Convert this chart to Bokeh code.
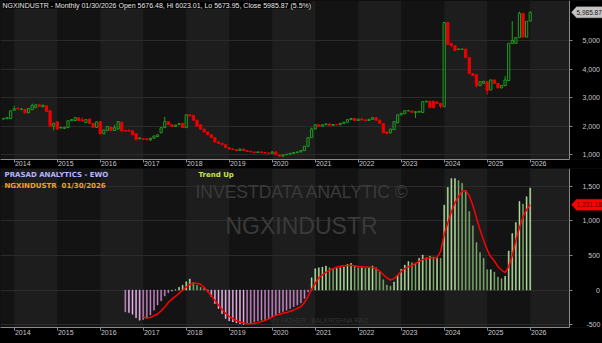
import numpy as np
import pandas as pd
from bokeh.plotting import figure
from bokeh.layouts import column
from bokeh.models import FixedTicker, Label, PolyAnnotation, Range1d, BoxAnnotation
from bokeh.embed import file_html
from bokeh.resources import INLINE

# ---------------- data ----------------
FIRST_MONTH = "2013-10-01"
opens = [2250, 2265, 2270, 2560, 2630, 2585, 2590, 2470, 2580, 2650, 2750, 2680,
         2720, 2540, 2000, 2160, 1940, 1920, 1950, 2190, 2200, 2290, 2220, 2130,
         2250, 2100, 1960, 2160, 1740, 1850, 1970, 1850, 1900, 2140, 1850, 1860,
         1840, 1740, 1560, 1560, 1560, 1520, 1580, 1640, 1770, 1950, 2160, 2050,
         1990, 2060, 2100, 1950, 2400, 2380, 2210, 2050, 1900, 1800, 1700, 1600,
         1450, 1400, 1350, 1250, 1200, 1180, 1150, 1200, 1150, 1120, 1100, 1080,
         1100, 1080, 1060, 1050, 1100, 1000, 950, 1000, 1020, 1050, 1080, 1100,
         1150, 1300, 1600, 1900, 2050, 2000, 2050, 2080, 2030, 2060, 2050, 2100,
         2140, 2230, 2270, 2200, 2250, 2220, 2200, 2240, 2300, 2210, 2090, 1800,
         1770, 1880, 2120, 2400, 2440, 2540, 2530, 2480, 2490, 2480, 2850, 2870,
         2870, 2850, 2800, 2680, 5630, 4900, 4820, 4690, 4690, 4700, 4400, 3840,
         3800, 3420, 3500, 3560, 3270, 3620, 3500, 3340, 3420, 3600, 4900, 4900,
         5100, 5950, 5120, 5676.48]
highs = [2275, 2320, 2560, 2720, 2650, 2640, 2600, 2640, 2790, 2770, 2760, 2760,
         2730, 2550, 2120, 2170, 1980, 1975, 2200, 2250, 2320, 2310, 2300, 2240,
         2260, 2110, 2170, 2170, 1880, 2000, 1980, 2050, 2180, 2150, 1880, 1870,
         1850, 1750, 1600, 1570, 1570, 1590, 1670, 1710, 1960, 2330, 2170, 2060,
         2050, 2100, 2110, 2410, 2430, 2390, 2220, 2060, 1910, 1820, 1720, 1620,
         1470, 1420, 1360, 1270, 1230, 1190, 1220, 1210, 1160, 1130, 1110, 1110,
         1110, 1090, 1070, 1120, 1110, 1010, 1010, 1030, 1060, 1090, 1110, 1160,
         1310, 1610, 1950, 2080, 2070, 2060, 2100, 2090, 2070, 2080, 2110, 2150,
         2250, 2290, 2280, 2260, 2280, 2240, 2260, 2320, 2310, 2220, 2100, 1810,
         1910, 2170, 2410, 2460, 2550, 2560, 2540, 2520, 2530, 2880, 2900, 2900,
         2890, 2860, 2810, 5640, 5640, 4910, 4830, 4720, 4710, 4710, 4410, 3850,
         3810, 3570, 3590, 3570, 3630, 3630, 3510, 3440, 3760, 4910, 5680, 5110,
         6010, 5960, 5680, 6023.01]
lows = [2240, 2255, 2260, 2540, 2590, 2560, 2450, 2460, 2570, 2640, 2690, 2670,
        2500, 1980, 1850, 1880, 1920, 1900, 1940, 2180, 2190, 2190, 2150, 2120,
        2090, 1950, 1950, 1700, 1720, 1840, 1840, 1840, 1890, 1820, 1810, 1820,
        1690, 1520, 1550, 1535, 1520, 1490, 1570, 1630, 1760, 1940, 2050, 1980,
        1980, 2050, 1940, 1940, 2350, 2200, 1990, 1880, 1790, 1690, 1590, 1440,
        1390, 1340, 1240, 1190, 1170, 1140, 1140, 1140, 1110, 1090, 1070, 1070,
        1070, 1050, 1040, 1040, 990, 920, 940, 990, 1010, 1040, 1070, 1090,
        1140, 1290, 1590, 1890, 1990, 1990, 2040, 2020, 2020, 2040, 2040, 2090,
        2130, 2220, 2180, 2190, 2200, 2180, 2190, 2230, 2200, 2080, 1760, 1730,
        1750, 1870, 2110, 2390, 2430, 2520, 2480, 2290, 2480, 2470, 2840, 2640,
        2640, 2790, 2620, 2670, 4850, 4760, 4640, 4680, 4680, 4390, 3830, 3760,
        3350, 3410, 3490, 3100, 3260, 3490, 3330, 3330, 3410, 3590, 4880, 4890,
        5090, 5110, 5110, 5673.95]
closes = [2265, 2300, 2540, 2610, 2600, 2595, 2470, 2620, 2720, 2750, 2700, 2730,
          2510, 2000, 2100, 1900, 1955, 1960, 2190, 2230, 2300, 2200, 2200, 2230,
          2100, 1960, 2150, 1740, 1870, 1990, 1850, 1950, 2160, 1830, 1820, 1830,
          1700, 1530, 1590, 1540, 1530, 1580, 1660, 1700, 1950, 2160, 2060, 1990,
          2040, 2090, 1950, 2400, 2360, 2210, 2000, 1900, 1800, 1700, 1600, 1450,
          1400, 1350, 1250, 1200, 1180, 1150, 1200, 1150, 1120, 1100, 1080, 1100,
          1080, 1060, 1050, 1100, 1000, 950, 1000, 1020, 1050, 1080, 1100, 1150,
          1300, 1600, 1900, 2050, 2000, 2050, 2080, 2030, 2060, 2050, 2100, 2140,
          2230, 2270, 2200, 2250, 2220, 2200, 2240, 2300, 2210, 2100, 1770, 1740,
          1900, 2160, 2400, 2450, 2540, 2545, 2490, 2510, 2520, 2860, 2870, 2650,
          2650, 2800, 2700, 5630, 4860, 4830, 4650, 4700, 4700, 4400, 3840, 3770,
          3420, 3560, 3570, 3250, 3620, 3500, 3340, 3430, 3620, 4900, 5000, 5100,
          5950, 5120, 5676.48, 5985.87]

EWO_FIRST_MONTH = "2016-08-01"
ewo = [-315, -325, -350, -400, -435, -425, -410, -360, -290, -215, -155, -85,
       -40, -15, 5, 40, 70, 120, 160, 110, 70, 40, 25, -25,
       -95, -195, -265, -340, -410, -445, -460, -475, -485, -495, -485, -475,
       -460, -445, -435, -425, -415, -385, -370, -330, -310, -290, -265, -240,
       -215, -185, -120, -25, 178, 309, 323, 333, 348, 323, 314, 314,
       323, 333, 372, 386, 348, 323, 323, 314, 323, 348, 323, 266,
       150, 72, 58, 116, 217, 300, 362, 411, 396, 392, 459, 507,
       469, 488, 478, 478, 459, 1227, 1483, 1609, 1609, 1580, 1541, 1435,
       1135, 928, 686, 541, 459, 295, 295, 261, 188, 164, 198, 565,
       816, 976, 1280, 1242, 1348, 1474]

SIGNAL_FIRST_MONTH = "2017-01-01"
signal = [-390, -400, -395, -370, -345, -300, -245, -180, -130, -90, -45, -5,
          45, 80, 100, 100, 85, 40, -20, -80, -150, -215, -280, -335,
          -380, -410, -440, -460, -475, -485, -485, -480, -470, -455, -440, -415,
          -390, -365, -350, -335, -325, -305, -290, -265, -240, -180, -90, 15,
          95, 178, 220, 255, 285, 310, 330, 345, 350, 355, 357, 350,
          340, 337, 335, 330, 325, 310, 275, 220, 178, 145, 165, 215,
          270, 310, 340, 350, 385, 415, 440, 455, 465, 469, 465, 560,
          800, 970, 1130, 1260, 1350, 1430, 1435, 1363, 1220, 1040, 870, 720,
          580, 480, 420, 340, 290, 251, 340, 500, 720, 900, 1060, 1160,
          1231.18]

years = list(range(2014, 2027))
price_ticks = [1000, 2000, 3000, 4000, 5000]
ewo_ticks = [-500, 0, 500, 1000, 1500]

TITLE = ("NGXINDUSTR - Monthly 01/30/2026 Open 5676.48, Hi 6023.01, "
         "Lo 5673.95, Close 5985.87 (5.5%)")

# ---------------- helpers ----------------
def month_x(first, n):
    d = pd.date_range(first, periods=n, freq="MS")
    return np.array([(t.year - 2014) * 12 + t.month - 1 for t in d], float)


FONT = "Liberation Sans"
BFONT = "DejaVu Sans"
BG = "#1d1d1d"
BAND = "#131313"
GRID = "#2b2b2b"
AX = "#8a8a8a"
LBL = "#c8c8c8"
W, FH = 602, 159           # frame spans the full width; price axis is pinned inside it
AXIS_PX = 569              # pixel column of the price axis
X0, X_AXIS = -3.84, 154.97  # month offsets at the left edge and at the price axis
PX_PER_M = AXIS_PX / (X_AXIS - X0)
x_range = Range1d(X0, X0 + W / PX_PER_M)

year_x = [(y - 2014) * 12 for y in years]
LAB_OFF = 2.375


def right_aligned(ticks):
    labs = [f"{t:,}" for t in ticks]
    nd = [sum(ch.isdigit() for ch in s) for s in labs]
    nc = [s.count(",") for s in labs]
    md, mc = max(nd), max(nc)
    out = {}
    for t, s, d, c in zip(ticks, labs, nd, nc):
        pad_c = mc - c - (1 if s.startswith("-") else 0)
        out[t] = "\u2007" * (md - d) + "\u2008" * max(pad_c, 0) + s
    return out


def style(p, yticks, standoff):
    p.background_fill_color = BG
    p.border_fill_color = "black"
    p.outline_line_color = None
    xa = p.xaxis[0]
    xa.bounds = (X0, X_AXIS)
    xa.ticker = FixedTicker(ticks=[x + LAB_OFF for x in year_x], minor_ticks=year_x)
    xa.major_label_overrides = {x + LAB_OFF: str(y) for x, y in zip(year_x, years)}
    xa.major_tick_out = 0
    xa.major_tick_in = 0
    xa.minor_tick_out = 3
    xa.minor_tick_in = 0
    xa.minor_tick_line_color = AX
    xa.major_label_standoff = standoff
    ya = p.yaxis[0]
    ya.fixed_location = X_AXIS
    ya.ticker = FixedTicker(ticks=yticks)
    ya.major_label_overrides = right_aligned(yticks)
    ya.major_tick_out = 3
    ya.major_tick_in = 0
    ya.minor_tick_line_color = None
    ya.major_label_standoff = 10
    for ax in (xa, ya):
        ax.major_label_text_font = FONT
        ax.major_label_text_font_size = "7px"
        ax.major_label_text_color = LBL
        ax.axis_line_color = AX
        ax.major_tick_line_color = AX
    p.xgrid.ticker = FixedTicker(ticks=[year_x[0] - 12] + year_x + [year_x[-1] + 12])
    p.xgrid.grid_line_color = None
    p.xgrid.band_fill_color = BAND
    p.xgrid.band_fill_alpha = 1.0
    p.ygrid.ticker = FixedTicker(ticks=yticks)
    p.ygrid.grid_line_color = GRID
    # black strip behind the price-axis labels
    p.add_layout(BoxAnnotation(left=X_AXIS, fill_color="black", fill_alpha=1.0,
                               line_color=None, level="underlay"))


def price_tag(p, yr, val, fill, text_color):
    sy = (val - yr.start) / (yr.end - yr.start) * FH
    p.add_layout(PolyAnnotation(xs=[AXIS_PX + 2, AXIS_PX + 7, W, W, AXIS_PX + 7],
                                ys=[sy, sy + 5.5, sy + 5.5, sy - 5.5, sy - 5.5],
                                xs_units="screen", ys_units="screen",
                                fill_color=fill, fill_alpha=1, line_color=fill))
    p.add_layout(Label(x=AXIS_PX + 7, y=sy, x_units="screen", y_units="screen",
                       text=f"{val:,.2f}", text_font=FONT, text_font_size="6.5px",
                       text_color=text_color, text_baseline="middle"))


def make_fig(yr, border_bottom):
    return figure(frame_width=W, frame_height=FH, x_range=x_range, y_range=yr,
                  y_axis_location="right", output_backend="svg", toolbar_location=None,
                  min_border_left=0, min_border_top=0, min_border_right=0,
                  min_border_bottom=border_bottom)


# ---------------- price panel ----------------
xs = month_x(FIRST_MONTH, len(closes))
o, h, l, c = (np.array(a, float) for a in (opens, highs, lows, closes))
up = c >= o
btop = np.maximum(o, c)
bbot = np.minimum(o, c)

y1 = Range1d(835, 6400)
p1 = make_fig(y1, 9)
style(p1, price_ticks, -2)

GREEN = "#1e9e1e"
RED = "#ee0000"
for mask, col, fill in ((up, GREEN, None), (~up, RED, RED)):
    p1.segment(xs[mask], btop[mask], xs[mask], h[mask], line_color=col, line_width=1)
    p1.segment(xs[mask], bbot[mask], xs[mask], l[mask], line_color=col, line_width=1)
    p1.vbar(x=xs[mask], top=btop[mask], bottom=bbot[mask], width=0.62,
            fill_color=fill, line_color=col, line_width=1)

p1.add_layout(Label(x=2, y=FH - 1, x_units="screen", y_units="screen", text=TITLE,
                    text_font=FONT, text_font_size="7px", text_color="#e8e8e8",
                    text_baseline="top", background_fill_color="black",
                    background_fill_alpha=1.0))
price_tag(p1, y1, c[-1], "#c4c4c4", "#1a1a1a")

# ---------------- EWO panel ----------------
ex = month_x(EWO_FIRST_MONTH, len(ewo))
ev = np.array(ewo, float)
prev = np.concatenate([[ev[0]], ev[:-1]])
rising = ev >= prev
colors = []
for v, r in zip(ev, rising):
    if v >= 0:
        colors.append("#b8e8a4" if r else "#7fae6e")
    else:
        colors.append("#c888c8" if r else "#f0b8f0")

sx = month_x(SIGNAL_FIRST_MONTH, len(signal))
sv = np.array(signal, float)

y2 = Range1d(-540, 1755)
p2 = make_fig(y2, 16)
style(p2, ewo_ticks, -1)

TOP2 = 168  # page y of the EWO frame top


def sy2(page_y):
    return FH - (page_y - TOP2)


WM = "#3a3a3a"
for txt, x, py, size, col in (("INVESTDATA ANALYTIC ©", 195, 181, "17.5px", WM),
                              ("NGXINDUSTR", 225, 212, "23px", WM),
                              ("MY FATHER : BALKRISHNA RAO", 269, 316, "6.5px", "#353535")):
    p2.add_layout(Label(x=x, y=sy2(py), x_units="screen", y_units="screen", text=txt,
                        text_font=FONT, text_font_size=size, text_color=col,
                        text_baseline="top", level="underlay"))

p2.vbar(x=ex, top=ev, bottom=0, width=0.26, fill_color=colors, line_color=colors, line_width=0.5)
p2.line(sx, sv, line_color="#ff0000", line_width=1.5)

p2.add_layout(Label(x=4, y=sy2(170), x_units="screen", y_units="screen",
                    text="PRASAD ANALYTICS - EWO", text_font=BFONT, text_font_size="7px",
                    text_font_style="bold", text_color="#b4b4ff", text_baseline="top"))
p2.add_layout(Label(x=4, y=sy2(181), x_units="screen", y_units="screen",
                    text="NGXINDUSTR\u00a0\u00a001/30/2026", text_font=BFONT,
                    text_font_size="7px", text_font_style="bold", text_color="#f0a020",
                    text_baseline="top"))
p2.add_layout(Label(x=198, y=sy2(170), x_units="screen", y_units="screen",
                    text="Trend Up", text_font=BFONT, text_font_size="7px",
                    text_font_style="bold", text_color="#c8e650", text_baseline="top"))

price_tag(p2, y2, sv[-1], "#ff0000", "#5a0000")

layout = column(p1, p2, spacing=0, styles={"background-color": "black"})
open("out.html", "w").write(file_html(layout, INLINE))
